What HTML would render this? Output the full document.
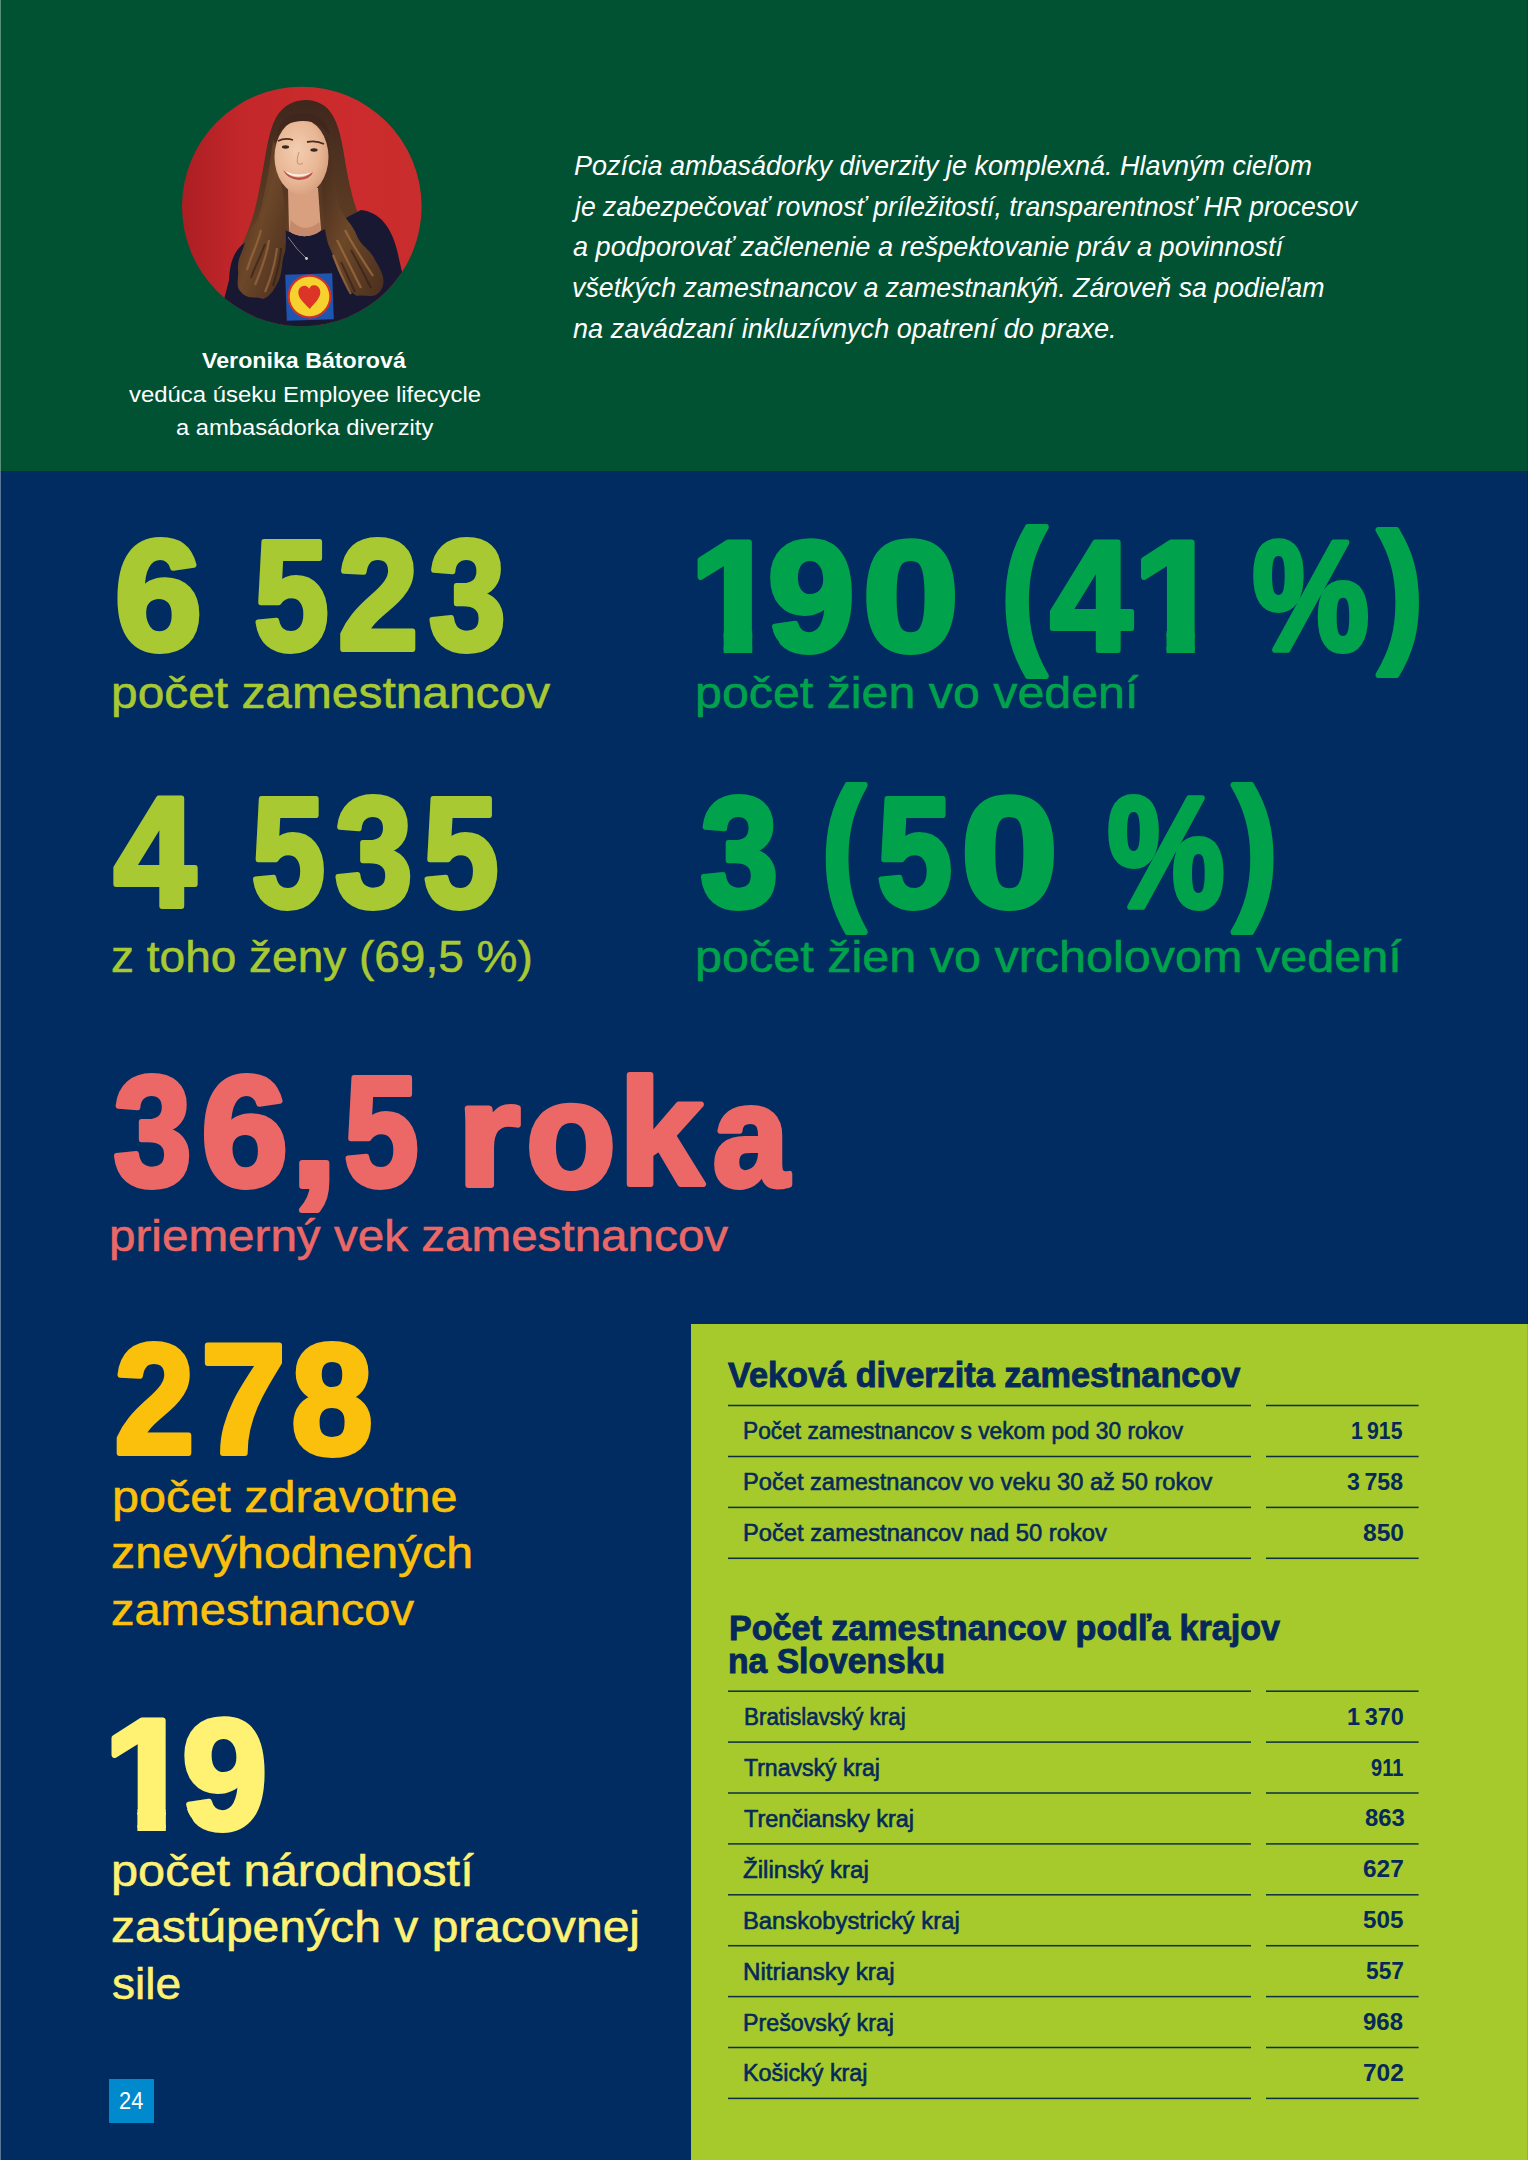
<!DOCTYPE html>
<html lang="sk"><head><meta charset="utf-8"><title>Diverzita – 24</title>
<style>
html,body{margin:0;padding:0}
body{width:1529px;height:2160px;position:relative;overflow:hidden;background:#002c61;font-family:"Liberation Sans",Arial,sans-serif}
.hdr{position:absolute;left:0;top:0;width:1529px;height:471px;background:#005232}
.panel{position:absolute;left:691px;top:1324px;width:838px;height:836px;background:#a6c92c}
.edgeL{position:absolute;left:0;top:0;width:1px;height:2160px;background:rgba(255,255,255,0.35)}
.edgeR2{position:absolute;right:1px;top:0;width:1px;height:2160px;background:rgba(0,0,0,0.1)}
.edgeR{position:absolute;right:0;top:0;width:1px;height:2160px;background:#fff}
div.t{position:absolute;white-space:nowrap;line-height:1;transform-origin:0 0}
.rl{color:#05295a}
.rn{color:#05295a;font-weight:700}
.ln{position:absolute;height:1.5px;background:#0b3040}
.pgbox{position:absolute;left:109px;top:2079px;width:45px;height:44px;background:#0089cc}
.photo{position:absolute;left:175px;top:80px}
.big,.lines{position:absolute;left:0;top:0;pointer-events:none}
.big{font-family:"Liberation Sans",Arial,sans-serif;font-weight:700;stroke-width:6.0px;stroke-linejoin:round;white-space:pre}
</style></head>
<body>
<div class="hdr"></div>
<svg class="photo" width="255" height="255" viewBox="0 0 255 255">
<defs>
<clipPath id="cc"><circle cx="126.8" cy="126.5" r="119.8"/></clipPath>
<linearGradient id="bgG" x1="0" y1="0" x2="1" y2="0">
<stop offset="0" stop-color="#a91d22"/><stop offset="0.25" stop-color="#c2272a"/><stop offset="0.6" stop-color="#cc2b2c"/><stop offset="1" stop-color="#c92d2d"/>
</linearGradient>
<linearGradient id="hairG" x1="0" y1="0" x2="0" y2="1">
<stop offset="0" stop-color="#3f271d"/><stop offset="0.45" stop-color="#573722"/><stop offset="1" stop-color="#6d4629"/>
</linearGradient>
<linearGradient id="hairL" x1="0" y1="0" x2="1" y2="1">
<stop offset="0" stop-color="#3f2619"/><stop offset="0.5" stop-color="#6c4729"/><stop offset="1" stop-color="#4a2e1e"/>
</linearGradient>
<radialGradient id="faceG" cx="0.42" cy="0.42" r="0.7">
<stop offset="0" stop-color="#f3cdb0"/><stop offset="0.6" stop-color="#e8b694"/><stop offset="1" stop-color="#cf9676"/>
</radialGradient>
</defs>
<g clip-path="url(#cc)">
<rect width="255" height="255" fill="url(#bgG)"/>
<path d="M131,20 C116,20 104,28 98,44 C92,60 90,80 86,100 C82,122 78,140 70,158 C62,176 60,196 64,212 C70,222 84,220 98,214 L170,214 C186,220 204,216 208,200 C210,184 200,164 190,148 C180,130 176,112 172,92 C168,70 166,50 158,36 C152,25 142,20 131,20 Z" fill="url(#hairG)"/>
<path d="M40,255 L54,200 C55,180 60,168 74,160 L110,150 C120,156 138,156 148,150 L186,130 C204,132 216,146 222,170 L232,214 L236,255 Z" fill="#181833"/>
<path d="M113,108 L143,108 L146,150 C138,158 122,158 114,151 Z" fill="#d9a07f"/>
<path d="M116,140 C124,150 136,150 144,142 L146,150 C138,158 122,158 114,151 Z" fill="#c58a6b"/>
<path d="M98,60 C94,90 90,115 84,135 C80,146 72,150 70,162 C68,172 62,178 63,190 C64,200 60,206 66,212 C72,220 82,216 88,219 C96,216 100,208 104,200 C108,190 106,182 110,172 C112,160 110,150 111,138 C110,120 104,96 104,70 Z" fill="url(#hairL)"/>
<path d="M72,190 C76,176 82,166 86,150 M80,205 C86,190 92,176 94,160 M90,212 C96,198 100,184 102,168" stroke="#9a6a40" stroke-width="2.2" fill="none" opacity="0.75"/>
<path d="M76,198 C80,186 86,176 90,164 M98,206 C102,192 106,180 106,168" stroke="#2f1c14" stroke-width="2" fill="none" opacity="0.6"/>
<path d="M152,55 C158,80 160,105 164,125 C168,138 178,144 182,156 C186,166 196,170 200,180 C206,190 212,200 206,210 C200,220 190,214 182,216 C174,212 172,204 166,196 C160,186 160,178 154,166 C148,150 146,110 148,85 Z" fill="url(#hairL)"/>
<path d="M170,150 C178,166 188,180 198,196 M162,160 C170,176 178,192 186,208 M158,175 C164,190 170,204 176,214" stroke="#a0703f" stroke-width="2.2" fill="none" opacity="0.75"/>
<path d="M176,170 C184,184 190,196 196,208 M166,182 C172,194 176,204 180,212" stroke="#2f1c14" stroke-width="2" fill="none" opacity="0.6"/>
<ellipse cx="126.5" cy="77" rx="27" ry="37.5" fill="url(#faceG)"/>
<path d="M102,56 C104,40 114,33 128,33 C142,33 152,40 155,56 C148,45 140,41 128,41 C116,41 106,46 102,56 Z" fill="#3f271d"/>
<path d="M103,61 Q110,57.5 118,60" stroke="#4a2c20" stroke-width="1.8" fill="none"/>
<path d="M132,62 Q141,60 149,64" stroke="#4a2c20" stroke-width="1.8" fill="none"/>
<ellipse cx="110.5" cy="67" rx="3.6" ry="1.7" fill="#3a2620"/>
<ellipse cx="139" cy="70" rx="3.6" ry="1.7" fill="#3a2620"/>
<path d="M124,72 Q121,81 123,84 Q126,85 128,83" stroke="#c98f70" stroke-width="1" fill="none"/>
<path d="M108,90 Q122,104 138,92 Q136,99 124,100 Q112,99 108,90 Z" fill="#b9504e"/>
<path d="M110.5,91.5 Q123,97 136,92.5 Q132,96 123,96.5 Q114,96 110.5,91.5 Z" fill="#fbf1ea"/>
<path d="M113,157 Q122,170 131,178" stroke="#c9c4bd" stroke-width="0.6" fill="none"/>
<circle cx="131.5" cy="178.5" r="1.4" fill="#d8d4cc"/>
<g transform="rotate(-2 134.5 217)">
<rect x="111" y="194" width="47" height="46" fill="#1e55b0"/>
<circle cx="134.5" cy="216.5" r="22" fill="#d4302a"/>
<circle cx="134.5" cy="216.5" r="19.8" fill="#f5d22e"/>
<path d="M134.5,229 C131,224.5 123.5,219 123.5,212.5 C123.5,208 126.5,205.5 129.8,205.5 C132,205.5 133.8,207 134.5,208.8 C135.2,207 137,205.5 139.2,205.5 C142.5,205.5 145.5,208 145.5,212.5 C145.5,219 138,224.5 134.5,229 Z" fill="#dc3527"/>
</g>
</g>
</svg>
<div class="panel"></div>
<div class="pgbox"></div>
<div class="t" id="h_name" style="left:201.90px;top:349.20px;font-size:22.8px;color:#ffffff;font-weight:700;transform:scaleX(1.0180);">Veronika Bátorová</div>
<div class="t" id="h_role1" style="left:128.81px;top:382.60px;font-size:22.8px;color:#ffffff;transform:scaleX(1.0482);">vedúca úseku Employee lifecycle</div>
<div class="t" id="h_role2" style="left:176.00px;top:416.30px;font-size:22.8px;color:#ffffff;transform:scaleX(1.0412);">a ambasádorka diverzity</div>
<div class="t" id="q0" style="left:573.90px;top:151.82px;font-size:27.5px;color:#ffffff;font-style:italic;transform:scaleX(0.9814);">Pozícia ambasádorky diverzity je komplexná. Hlavným cieľom</div>
<div class="t" id="q1" style="left:575.18px;top:192.62px;font-size:27.5px;color:#ffffff;font-style:italic;transform:scaleX(0.9671);">je zabezpečovať rovnosť príležitostí, transparentnosť HR procesov</div>
<div class="t" id="q2" style="left:573.49px;top:233.12px;font-size:27.5px;color:#ffffff;font-style:italic;transform:scaleX(0.9854);">a podporovať začlenenie a rešpektovanie práv a povinností</div>
<div class="t" id="q3" style="left:572.33px;top:274.32px;font-size:27.5px;color:#ffffff;font-style:italic;transform:scaleX(0.9728);">všetkých zamestnancov a zamestnankýň. Zároveň sa podieľam</div>
<div class="t" id="q4" style="left:573.31px;top:315.32px;font-size:27.5px;color:#ffffff;font-style:italic;transform:scaleX(0.9851);">na zavádzaní inkluzívnych opatrení do praxe.</div>
<svg class="big" width="1529" height="2160" viewBox="0 0 1529 2160"><text id="n1" fill="#a8c932" stroke="#a8c932"><tspan class="t" id="n1g0" x="114.89" y="649.40" font-size="156.25" textLength="87.22" lengthAdjust="spacingAndGlyphs">6</tspan><tspan> </tspan><tspan class="t" id="n1g1" x="253.97" y="649.40" font-size="156.25" textLength="74.57" lengthAdjust="spacingAndGlyphs">5</tspan><tspan class="t" id="n1g2" x="337.91" y="649.40" font-size="156.25" textLength="80.25" lengthAdjust="spacingAndGlyphs">2</tspan><tspan class="t" id="n1g3" x="428.96" y="649.40" font-size="156.25" textLength="76.62" lengthAdjust="spacingAndGlyphs">3</tspan></text></svg>
<div class="t" id="c1" style="left:110.62px;top:670.85px;font-size:44.6px;color:#a8c932;-webkit-text-stroke:0.55px #a8c932;transform:scaleX(1.0736);">počet zamestnancov</div>
<svg class="big" width="1529" height="2160" viewBox="0 0 1529 2160"><defs><clipPath id="kn2"><path clip-rule="evenodd" d="M0,0H1529V2160H0ZM694.78,630.35H723.64V654.40H694.78ZM752.23,630.35L772.97,630.35L772.97,630.85L773.51,632.29L774.10,633.68L774.72,635.02L775.38,636.30L776.07,637.53L776.80,638.70L777.57,639.82L778.38,640.88L779.07,641.89L779.07,642.84L779.07,643.73L779.07,644.57L779.07,645.36L779.07,646.09L779.07,646.78L779.07,647.42L779.07,648.01L779.07,648.56L779.07,649.06L779.07,649.51L779.07,649.91L779.07,650.26L779.07,650.57L779.07,650.83L779.07,651.05L779.07,651.21L779.07,651.33L779.07,651.40L779.07,651.43L779.07,654.40L752.23,654.40ZM1138.02,630.35H1166.52V654.40H1138.02ZM1194.75,630.35H1221.25V654.40H1194.75Z"/></clipPath></defs><text id="n2" fill="#00a34b" stroke="#00a34b" clip-path="url(#kn2)"><tspan class="t" id="n2g0" x="689.80" y="649.90" font-size="156.25" textLength="88.64" lengthAdjust="spacingAndGlyphs">1</tspan><tspan class="t" id="n2g1" x="767.82" y="649.90" font-size="156.25" textLength="86.90" lengthAdjust="spacingAndGlyphs">9</tspan><tspan class="t" id="n2g2" x="862.78" y="649.90" font-size="156.25" textLength="96.00" lengthAdjust="spacingAndGlyphs">0</tspan><tspan> </tspan><tspan class="t" id="n2g3" x="1001.32" y="643.05" font-size="158.79" textLength="45.08" lengthAdjust="spacingAndGlyphs">(</tspan><tspan class="t" id="n2g4" x="1050.46" y="649.90" font-size="156.25" textLength="81.59" lengthAdjust="spacingAndGlyphs">4</tspan><tspan class="t" id="n2g5" x="1133.13" y="649.90" font-size="156.25" textLength="87.48" lengthAdjust="spacingAndGlyphs">1</tspan><tspan> </tspan><tspan class="t" id="n2g6" x="1252.48" y="650.28" font-size="156.36" textLength="116.54" lengthAdjust="spacingAndGlyphs">%</tspan><tspan class="t" id="n2g7" x="1378.10" y="643.01" font-size="156.67" textLength="45.08" lengthAdjust="spacingAndGlyphs">)</tspan></text></svg>
<div class="t" id="c2" style="left:694.96px;top:670.85px;font-size:44.6px;color:#00a34b;-webkit-text-stroke:0.55px #00a34b;transform:scaleX(1.0839);">počet žien vo vedení</div>
<svg class="big" width="1529" height="2160" viewBox="0 0 1529 2160"><text id="n3" fill="#a8c932" stroke="#a8c932"><tspan class="t" id="n3g0" x="113.96" y="905.70" font-size="156.25" textLength="81.63" lengthAdjust="spacingAndGlyphs">4</tspan><tspan> </tspan><tspan class="t" id="n3g1" x="251.45" y="905.70" font-size="156.25" textLength="73.59" lengthAdjust="spacingAndGlyphs">5</tspan><tspan class="t" id="n3g2" x="335.00" y="905.70" font-size="156.25" textLength="77.59" lengthAdjust="spacingAndGlyphs">3</tspan><tspan class="t" id="n3g3" x="422.97" y="905.70" font-size="156.25" textLength="75.56" lengthAdjust="spacingAndGlyphs">5</tspan></text></svg>
<div class="t" id="c3" style="left:110.75px;top:935.05px;font-size:44.6px;color:#a8c932;-webkit-text-stroke:0.55px #a8c932;transform:scaleX(1.0313);">z toho ženy (69,5 %)</div>
<svg class="big" width="1529" height="2160" viewBox="0 0 1529 2160"><text id="n4" fill="#00a34b" stroke="#00a34b"><tspan class="t" id="n4g0" x="700.46" y="906.00" font-size="156.25" textLength="77.65" lengthAdjust="spacingAndGlyphs">3</tspan><tspan> </tspan><tspan class="t" id="n4g1" x="821.87" y="898.80" font-size="157.76" textLength="43.57" lengthAdjust="spacingAndGlyphs">(</tspan><tspan class="t" id="n4g2" x="876.97" y="906.00" font-size="156.25" textLength="75.11" lengthAdjust="spacingAndGlyphs">5</tspan><tspan class="t" id="n4g3" x="961.26" y="906.00" font-size="156.25" textLength="96.53" lengthAdjust="spacingAndGlyphs">0</tspan><tspan> </tspan><tspan class="t" id="n4g4" x="1107.47" y="906.77" font-size="157.07" textLength="117.05" lengthAdjust="spacingAndGlyphs">%</tspan><tspan class="t" id="n4g5" x="1233.06" y="898.77" font-size="157.70" textLength="44.63" lengthAdjust="spacingAndGlyphs">)</tspan></text></svg>
<div class="t" id="c4" style="left:694.95px;top:934.75px;font-size:44.6px;color:#00a34b;-webkit-text-stroke:0.55px #00a34b;transform:scaleX(1.0881);">počet žien vo vrcholovom vedení</div>
<svg class="big" width="1529" height="2160" viewBox="0 0 1529 2160"><text id="n5" fill="#ec6866" stroke="#ec6866"><tspan class="t" id="n5g0" x="113.49" y="1184.70" font-size="156.25" textLength="78.10" lengthAdjust="spacingAndGlyphs">3</tspan><tspan class="t" id="n5g1" x="201.33" y="1184.70" font-size="156.25" textLength="86.83" lengthAdjust="spacingAndGlyphs">6</tspan><tspan class="t" id="n5g2" x="290.81" y="1186.03" font-size="154.88" textLength="46.58" lengthAdjust="spacingAndGlyphs">,</tspan><tspan class="t" id="n5g3" x="343.96" y="1184.70" font-size="156.25" textLength="74.58" lengthAdjust="spacingAndGlyphs">5</tspan><tspan> </tspan><tspan class="t" id="n5g4" x="457.47" y="1184.52" font-size="143.94" textLength="62.41" lengthAdjust="spacingAndGlyphs">r</tspan><tspan class="t" id="n5g5" x="526.34" y="1186.54" font-size="150.75" textLength="89.27" lengthAdjust="spacingAndGlyphs">o</tspan><tspan class="t" id="n5g6" x="619.19" y="1183.52" font-size="151.21" textLength="83.67" lengthAdjust="spacingAndGlyphs">k</tspan><tspan class="t" id="n5g7" x="713.03" y="1186.07" font-size="145.31" textLength="75.61" lengthAdjust="spacingAndGlyphs">a</tspan></text></svg>
<div class="t" id="c5" style="left:109.01px;top:1214.05px;font-size:44.6px;color:#ec6866;-webkit-text-stroke:0.55px #ec6866;transform:scaleX(1.0676);">priemerný vek zamestnancov</div>
<svg class="big" width="1529" height="2160" viewBox="0 0 1529 2160"><text id="n6" fill="#fbc00c" stroke="#fbc00c"><tspan class="t" id="n6g0" x="114.40" y="1452.60" font-size="156.25" textLength="79.79" lengthAdjust="spacingAndGlyphs">2</tspan><tspan class="t" id="n6g1" x="201.24" y="1452.60" font-size="156.25" textLength="84.53" lengthAdjust="spacingAndGlyphs">7</tspan><tspan class="t" id="n6g2" x="291.42" y="1452.60" font-size="156.25" textLength="81.13" lengthAdjust="spacingAndGlyphs">8</tspan></text></svg>
<div class="t" id="c6a" style="left:111.58px;top:1475.15px;font-size:44.6px;color:#fbc00c;-webkit-text-stroke:0.55px #fbc00c;transform:scaleX(1.0885);">počet zdravotne</div>
<div class="t" id="c6b" style="left:110.92px;top:1531.25px;font-size:44.6px;color:#fbc00c;-webkit-text-stroke:0.55px #fbc00c;transform:scaleX(1.0820);">znevýhodnených</div>
<div class="t" id="c6c" style="left:110.95px;top:1588.15px;font-size:44.6px;color:#fbc00c;-webkit-text-stroke:0.55px #fbc00c;transform:scaleX(1.0536);">zamestnancov</div>
<svg class="big" width="1529" height="2160" viewBox="0 0 1529 2160"><defs><clipPath id="kn7"><path clip-rule="evenodd" d="M0,0H1529V2160H0ZM108.64,1808.35H137.38V1832.40H108.64ZM165.84,1808.35L186.92,1808.35L186.92,1808.85L187.45,1810.29L188.03,1811.68L188.64,1813.02L189.28,1814.30L189.97,1815.53L190.68,1816.70L191.44,1817.82L192.23,1818.88L192.56,1819.89L192.56,1820.84L192.56,1821.73L192.56,1822.57L192.56,1823.36L192.56,1824.09L192.56,1824.78L192.56,1825.42L192.56,1826.01L192.56,1826.56L192.56,1827.06L192.56,1827.51L192.56,1827.91L192.56,1828.26L192.56,1828.57L192.56,1828.83L192.56,1829.05L192.56,1829.21L192.56,1829.33L192.56,1829.40L192.56,1829.43L192.56,1832.40L165.84,1832.40Z"/></clipPath></defs><text id="n7" fill="#fff172" stroke="#fff172" clip-path="url(#kn7)"><tspan class="t" id="n7g0" x="103.70" y="1827.90" font-size="156.25" textLength="88.23" lengthAdjust="spacingAndGlyphs">1</tspan><tspan class="t" id="n7g1" x="181.88" y="1827.90" font-size="156.25" textLength="85.28" lengthAdjust="spacingAndGlyphs">9</tspan></text></svg>
<div class="t" id="c7a" style="left:111.37px;top:1849.15px;font-size:44.6px;color:#fff172;-webkit-text-stroke:0.55px #fff172;transform:scaleX(1.0917);">počet národností</div>
<div class="t" id="c7b" style="left:110.92px;top:1904.95px;font-size:44.6px;color:#fff172;-webkit-text-stroke:0.55px #fff172;transform:scaleX(1.0779);">zastúpených v pracovnej</div>
<div class="t" id="c7c" style="left:111.53px;top:1961.55px;font-size:44.6px;color:#fff172;-webkit-text-stroke:0.55px #fff172;transform:scaleX(1.0345);">sile</div>
<div class="t" id="pg" style="left:118.98px;top:2088.98px;font-size:24.0px;color:#ffffff;transform:scaleX(0.9086);">24</div>
<div class="t" id="t_h1" style="left:728.40px;top:1357.75px;font-size:34.2px;color:#05295a;font-weight:700;-webkit-text-stroke:0.9px #05295a;transform:scaleX(1.0024);">Veková diverzita zamestnancov</div>
<div class="t" id="t_h2a" style="left:728.71px;top:1610.85px;font-size:34.2px;color:#05295a;font-weight:700;-webkit-text-stroke:0.9px #05295a;transform:scaleX(0.9968);">Počet zamestnancov podľa krajov</div>
<div class="t" id="t_h2b" style="left:728.43px;top:1643.85px;font-size:34.2px;color:#05295a;font-weight:700;-webkit-text-stroke:0.9px #05295a;transform:scaleX(0.9845);">na Slovensku</div>
<div class="t" id="r1_0l" style="left:743.01px;top:1420.33px;font-size:23.0px;color:#05295a;-webkit-text-stroke:0.6px #05295a;transform:scaleX(0.9890);">Počet zamestnancov s vekom pod 30 rokov</div>
<div class="t" id="r1_0n" style="left:1351.13px;top:1419.82px;font-size:23.6px;color:#05295a;font-weight:700;word-spacing:-0.08em;transform:scaleX(0.9005);">1 915</div>
<div class="t" id="r1_1l" style="left:742.90px;top:1471.33px;font-size:23.0px;color:#05295a;-webkit-text-stroke:0.6px #05295a;transform:scaleX(1.0280);">Počet zamestnancov vo veku 30 až 50 rokov</div>
<div class="t" id="r1_1n" style="left:1347.49px;top:1470.82px;font-size:23.6px;color:#05295a;font-weight:700;word-spacing:-0.08em;transform:scaleX(0.9794);">3 758</div>
<div class="t" id="r1_2l" style="left:742.90px;top:1522.23px;font-size:23.0px;color:#05295a;-webkit-text-stroke:0.6px #05295a;transform:scaleX(1.0310);">Počet zamestnancov nad 50 rokov</div>
<div class="t" id="r1_2n" style="left:1362.97px;top:1521.72px;font-size:23.6px;color:#05295a;font-weight:700;transform:scaleX(1.0420);">850</div>
<div class="t" id="r2_0l" style="left:743.52px;top:1706.13px;font-size:23.0px;color:#05295a;-webkit-text-stroke:0.6px #05295a;transform:scaleX(0.9732);">Bratislavský kraj</div>
<div class="t" id="r2_0n" style="left:1347.00px;top:1705.62px;font-size:23.6px;color:#05295a;font-weight:700;word-spacing:-0.08em;transform:scaleX(0.9934);">1 370</div>
<div class="t" id="r2_1l" style="left:743.52px;top:1757.03px;font-size:23.0px;color:#05295a;-webkit-text-stroke:0.6px #05295a;transform:scaleX(1.0006);">Trnavský kraj</div>
<div class="t" id="r2_1n" style="left:1370.51px;top:1756.52px;font-size:23.6px;color:#05295a;font-weight:700;transform:scaleX(0.8485);">911</div>
<div class="t" id="r2_2l" style="left:743.53px;top:1807.93px;font-size:23.0px;color:#05295a;-webkit-text-stroke:0.6px #05295a;transform:scaleX(1.0209);">Trenčiansky kraj</div>
<div class="t" id="r2_2n" style="left:1364.51px;top:1807.42px;font-size:23.6px;color:#05295a;font-weight:700;transform:scaleX(1.0106);">863</div>
<div class="t" id="r2_3l" style="left:743.45px;top:1858.83px;font-size:23.0px;color:#05295a;-webkit-text-stroke:0.6px #05295a;transform:scaleX(1.0472);">Žilinský kraj</div>
<div class="t" id="r2_3n" style="left:1362.90px;top:1858.32px;font-size:23.6px;color:#05295a;font-weight:700;transform:scaleX(1.0338);">627</div>
<div class="t" id="r2_4l" style="left:743.42px;top:1909.73px;font-size:23.0px;color:#05295a;-webkit-text-stroke:0.6px #05295a;transform:scaleX(1.0336);">Banskobystrický kraj</div>
<div class="t" id="r2_4n" style="left:1362.50px;top:1909.22px;font-size:23.6px;color:#05295a;font-weight:700;transform:scaleX(1.0268);">505</div>
<div class="t" id="r2_5l" style="left:743.39px;top:1960.63px;font-size:23.0px;color:#05295a;-webkit-text-stroke:0.6px #05295a;transform:scaleX(1.0501);">Nitriansky kraj</div>
<div class="t" id="r2_5n" style="left:1365.50px;top:1960.12px;font-size:23.6px;color:#05295a;font-weight:700;transform:scaleX(0.9642);">557</div>
<div class="t" id="r2_6l" style="left:743.46px;top:2011.53px;font-size:23.0px;color:#05295a;-webkit-text-stroke:0.6px #05295a;transform:scaleX(1.0098);">Prešovský kraj</div>
<div class="t" id="r2_6n" style="left:1363.48px;top:2011.02px;font-size:23.6px;color:#05295a;font-weight:700;transform:scaleX(1.0170);">968</div>
<div class="t" id="r2_7l" style="left:743.44px;top:2062.43px;font-size:23.0px;color:#05295a;-webkit-text-stroke:0.6px #05295a;transform:scaleX(1.0149);">Košický kraj</div>
<div class="t" id="r2_7n" style="left:1363.47px;top:2061.92px;font-size:23.6px;color:#05295a;font-weight:700;transform:scaleX(1.0372);">702</div>
<svg class="lines" width="1529" height="2160" viewBox="0 0 1529 2160" fill="#0b3040"><rect x="728" y="1404.75" width="523" height="1.5"/><rect x="1266" y="1404.75" width="152.6" height="1.5"/><rect x="728" y="1455.75" width="523" height="1.5"/><rect x="1266" y="1455.75" width="152.6" height="1.5"/><rect x="728" y="1506.65" width="523" height="1.5"/><rect x="1266" y="1506.65" width="152.6" height="1.5"/><rect x="728" y="1557.55" width="523" height="1.5"/><rect x="1266" y="1557.55" width="152.6" height="1.5"/><rect x="728" y="1690.45" width="523" height="1.5"/><rect x="1266" y="1690.45" width="152.6" height="1.5"/><rect x="728" y="1741.35" width="523" height="1.5"/><rect x="1266" y="1741.35" width="152.6" height="1.5"/><rect x="728" y="1792.25" width="523" height="1.5"/><rect x="1266" y="1792.25" width="152.6" height="1.5"/><rect x="728" y="1843.15" width="523" height="1.5"/><rect x="1266" y="1843.15" width="152.6" height="1.5"/><rect x="728" y="1894.05" width="523" height="1.5"/><rect x="1266" y="1894.05" width="152.6" height="1.5"/><rect x="728" y="1944.95" width="523" height="1.5"/><rect x="1266" y="1944.95" width="152.6" height="1.5"/><rect x="728" y="1995.85" width="523" height="1.5"/><rect x="1266" y="1995.85" width="152.6" height="1.5"/><rect x="728" y="2046.75" width="523" height="1.5"/><rect x="1266" y="2046.75" width="152.6" height="1.5"/><rect x="728" y="2097.65" width="523" height="1.5"/><rect x="1266" y="2097.65" width="152.6" height="1.5"/></svg>
<div class="edgeL"></div><div class="edgeR2"></div><div class="edgeR"></div>
</body></html>
